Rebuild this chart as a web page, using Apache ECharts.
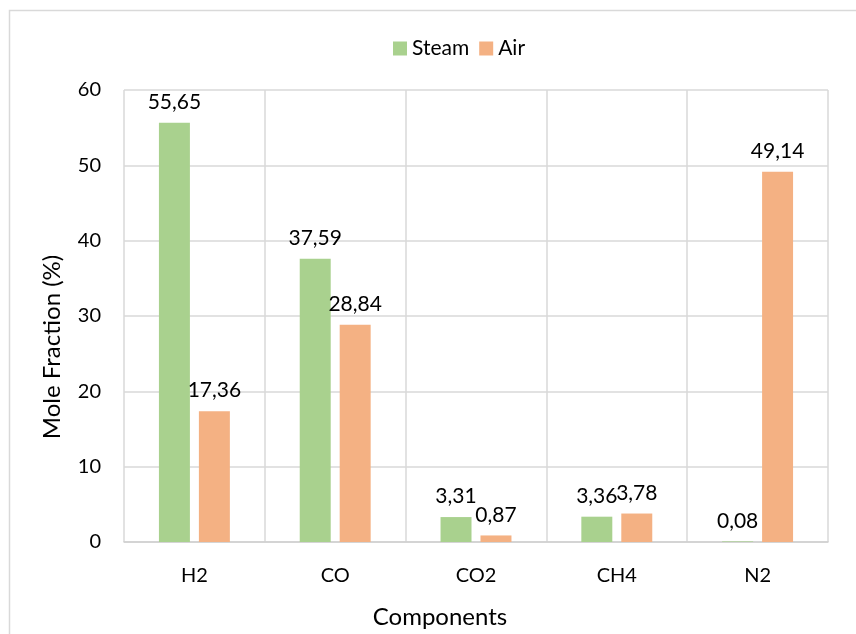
<!DOCTYPE html>
<html>
<head>
<meta charset="utf-8">
<style>
  html, body { margin: 0; padding: 0; background: #ffffff; }
  #chart { width: 856px; height: 634px; }
</style>
<script src="https://cdn.jsdelivr.net/npm/echarts@6/dist/echarts.min.js"></script>
</head>
<body>
<div id="chart"></div>
<script>
// Gas composition by gasifying agent
const categories = ['H2', 'CO', 'CO2', 'CH4', 'N2'];
const steamValues = [55.65, 37.59, 3.31, 3.36, 0.08];
const airValues = [17.36, 28.84, 0.87, 3.78, 49.14];
const yTicks = { min: 0, max: 60, interval: 10 };

const FONT = 'Lato, "Open Sans", sans-serif';
const fmt = p => p.value.toFixed(2).replace('.', ',');

const chart = echarts.init(document.getElementById('chart'), null, { renderer: 'canvas' });

const barLabel = {
  show: true,
  position: 'top',
  distance: 10,
  color: '#000000',
  fontFamily: FONT,
  fontSize: 21,
  formatter: fmt
};

chart.setOption({
  animation: false,
  backgroundColor: '#ffffff',
  graphic: [
    {
      // outer chart frame
      type: 'rect',
      shape: { x: 9.5, y: 10.5, width: 900, height: 700 },
      style: { fill: 'none', stroke: '#d9d9d9', lineWidth: 1.5 },
      silent: true
    },
    {
      // value axis title, centred on the chart area rather than the grid
      type: 'text',
      x: 64,
      y: 347,
      rotation: Math.PI / 2,
      style: {
        text: 'Mole Fraction (%)',
        fontFamily: FONT,
        fontSize: 24,
        fill: '#000000',
        align: 'center',
        verticalAlign: 'bottom'
      },
      silent: true
    }
  ],
  legend: {
    top: 33,
    left: 388,
    itemWidth: 14,
    itemHeight: 14,
    itemGap: 10,
    icon: 'rect',
    textStyle: { fontFamily: FONT, fontSize: 21, color: '#000000' },
    data: ['Steam', 'Air']
  },
  grid: { left: 124, right: 28, top: 90, bottom: 92, containLabel: false },
  xAxis: {
    type: 'category',
    data: categories,
    name: 'Components',
    nameLocation: 'middle',
    nameGap: 63,
    nameTextStyle: { fontFamily: FONT, fontSize: 24, color: '#000000', padding: [0, 72, 0, 0] },
    axisLine: { lineStyle: { color: '#d0d0d0', width: 1.5 } },
    axisTick: { show: false },
    axisLabel: { fontFamily: FONT, fontSize: 20, color: '#000000', margin: 24 },
    splitLine: { show: true, lineStyle: { color: '#d9d9d9', width: 1.5 } }
  },
  yAxis: {
    type: 'value',
    min: yTicks.min,
    max: yTicks.max,
    interval: yTicks.interval,
    axisLine: { show: false },
    axisTick: { show: false },
    axisLabel: { fontFamily: FONT, fontSize: 20, color: '#000000', margin: 23 },
    splitLine: { lineStyle: { color: '#d9d9d9', width: 1.5 } }
  },
  series: [
    {
      name: 'Steam',
      type: 'bar',
      data: steamValues,
      barWidth: '22%',
      barGap: '29%',
      itemStyle: { color: '#a9d18e' },
      label: barLabel
    },
    {
      name: 'Air',
      type: 'bar',
      data: airValues,
      barWidth: '22%',
      barGap: '29%',
      itemStyle: { color: '#f4b183' },
      label: barLabel
    }
  ]
});
</script>
</body>
</html>
